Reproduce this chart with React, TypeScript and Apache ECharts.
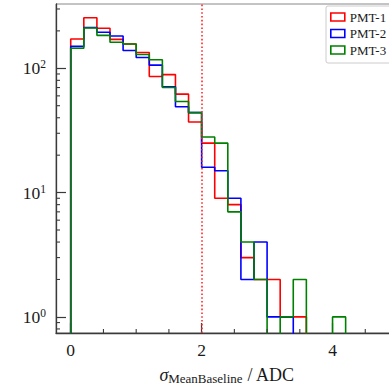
import React, { useEffect, useRef } from "react";
import * as echarts from "echarts";

// Bin edges (width 0.2 ADC)
const binEdges = [0, 0.2, 0.4, 0.6, 0.8, 1.0, 1.2, 1.4, 1.6, 1.8, 2.0, 2.2, 2.4, 2.6, 2.8, 3.0, 3.2, 3.4, 3.6, 3.8, 4.0, 4.2];

// Counts per bin
const pmt1 = [172, 255, 210, 171, 157, 134, 86, 89, 62, 37, 25, 9, 8, 3, 2, 2, 1, 1, 0, 0, 0];
const pmt2 = [150, 213, 195, 182, 139, 122, 106, 71, 49, 44, 16, 15, 9, 2, 4, 1, 1, 0, 0, 0, 0];
const pmt3 = [145, 211, 184, 162, 157, 129, 117, 70, 54, 44, 28, 25, 7, 4, 2, 0, 1, 2, 0, 0, 1];

const seriesNames = ["PMT-1", "PMT-2", "PMT-3"];
const seriesColors = ["rgb(255,0,0)", "rgb(0,0,255)", "rgb(0,128,0)"];

const xLabelValues = [0, 2, 4];
const xMinorTicks = [0.5, 1, 1.5, 2.5, 3, 3.5, 4.5];
const yLabelValues = [1, 10, 100];
const yMinorTicks = [0.8, 0.9, 2, 3, 4, 5, 6, 7, 8, 9, 20, 30, 40, 50, 60, 70, 80, 90, 200, 300];
const cutValue = 2;

const X_MIN = -0.225;
const X_MAX = 5.0;
const Y_MIN = 0.742;
const Y_MAX = 329;
const FLOOR = 0.05;

const FONT = "'Liberation Serif', 'DejaVu Serif', serif";
const AXIS_COLOR = "#3a3a3a";
const TEXT_COLOR = "#1a1a1a";

function stepPoints(counts: number[]): number[][] {
  const pts: number[][] = [[binEdges[0], FLOOR]];
  counts.forEach((c, i) => pts.push([binEdges[i], c > 0 ? c : FLOOR]));
  pts.push([binEdges[counts.length], FLOOR]);
  return pts;
}

export default function App() {
  const ref = useRef<HTMLDivElement>(null);
  useEffect(() => {
    if (!ref.current) return;
    const chart = echarts.init(ref.current, null, { renderer: "svg" });
    const data = [pmt1, pmt2, pmt3];
    const histSeries: any[] = data.map((counts, i) => ({
      name: seriesNames[i],
      type: "line",
      step: "end",
      data: stepPoints(counts),
      showSymbol: false,
      symbol: "none",
      clip: true,
      lineStyle: { color: seriesColors[i], width: 1.6 },
      itemStyle: { color: seriesColors[i] },
      z: 2 + i,
      markLine:
        i === 0
          ? {
              silent: true,
              symbol: ["none", "none"],
              label: { show: false },
              lineStyle: { color: "rgb(255,40,40)", type: [1.6, 2.2], width: 1.6 },
              data: [{ xAxis: cutValue }],
            }
          : undefined,
    }));

    const option: any = {
      animation: false,
      grid: {
        left: 56,
        right: 2,
        top: 4,
        bottom: 52,
        show: true,
        borderColor: "#888",
        borderWidth: 1,
        backgroundColor: "transparent",
        containLabel: false,
        outerBoundsMode: "none",
      },
      legend: {
        orient: "vertical",
        left: 326,
        top: 6,
        padding: [4, 6, 6, 4],
        itemWidth: 14,
        itemHeight: 8,
        itemGap: 2.5,
        icon: "rect",
        backgroundColor: "#fff",
        borderColor: "#ccc",
        borderWidth: 1,
        borderRadius: 2,
        textStyle: { fontFamily: FONT, fontSize: 13, color: TEXT_COLOR, lineHeight: 14 },
        data: seriesNames.map((n, i) => ({
          name: n,
          icon: "rect",
          itemStyle: { color: "#fff", borderColor: seriesColors[i], borderWidth: 1.6 },
        })),
      },
      xAxis: {
        type: "value",
        min: X_MIN,
        max: X_MAX,
        name: "{i|σ}{sub|MeanBaseline}{n| / ADC}",
        nameLocation: "middle",
        nameGap: 32,
        nameTextStyle: {
          rich: {
            i: { fontFamily: FONT, fontStyle: "italic", fontSize: 18, color: TEXT_COLOR, lineHeight: 20 },
            sub: { fontFamily: FONT, fontSize: 13, color: TEXT_COLOR, lineHeight: 12, verticalAlign: "bottom" },
            n: { fontFamily: FONT, fontSize: 18, color: TEXT_COLOR, lineHeight: 20 },
          },
        },
        axisLine: { show: true, onZero: false, lineStyle: { color: AXIS_COLOR, width: 1.3 } },
        axisTick: { show: true, inside: true, length: 10, customValues: xLabelValues, lineStyle: { color: AXIS_COLOR, width: 1.2 } },
        axisLabel: {
          customValues: xLabelValues,
          margin: 8,
          fontFamily: FONT,
          fontSize: 17.5,
          color: TEXT_COLOR,
        },
        splitLine: { show: false },
      },
      yAxis: {
        type: "log",
        logBase: 10,
        min: Y_MIN,
        max: Y_MAX,
        axisLine: { show: true, onZero: false, lineStyle: { color: AXIS_COLOR, width: 1.3 } },
        axisTick: { show: true, inside: true, length: 10, customValues: yLabelValues, lineStyle: { color: AXIS_COLOR, width: 1.2 } },
        axisLabel: {
          customValues: yLabelValues,
          margin: 10,
          formatter: (v: number) => `{b|10}{s|${Math.round(Math.log10(v))}}`,
          rich: {
            b: { fontFamily: FONT, fontSize: 17.5, color: TEXT_COLOR, lineHeight: 20 },
            s: { fontFamily: FONT, fontSize: 11.5, color: TEXT_COLOR, lineHeight: 12, verticalAlign: "top" },
          },
        },
        splitLine: { show: false },
        minorTick: { show: false },
      },
      series: [
        ...histSeries,
        {
          name: "yMinor",
          type: "custom",
          silent: true,
          z: 10,
          data: yMinorTicks.map((v) => [0, v]),
          encode: { x: 0, y: 1 },
          renderItem: (params: any, api: any) => {
            const p = api.coord([0, api.value(1)]);
            const left = params.coordSys.x;
            return {
              type: "line",
              shape: { x1: left, y1: p[1], x2: left + 4, y2: p[1] },
              style: { stroke: AXIS_COLOR, lineWidth: 1.1 },
            };
          },
        },
        {
          name: "xMinor",
          type: "custom",
          silent: true,
          z: 10,
          data: xMinorTicks.map((v) => [v, 1]),
          encode: { x: 0, y: 1 },
          renderItem: (params: any, api: any) => {
            const p = api.coord([api.value(0), 1]);
            const bottom = params.coordSys.y + params.coordSys.height;
            return {
              type: "line",
              shape: { x1: p[0], y1: bottom, x2: p[0], y2: bottom - 4 },
              style: { stroke: AXIS_COLOR, lineWidth: 1.1 },
            };
          },
        },
      ],
    };
    chart.setOption(option);
    return () => chart.dispose();
  }, []);

  return (
    <div
      style={{
        position: "fixed",
        left: 0,
        top: 0,
        width: 389,
        height: 385,
        overflow: "hidden",
        background: "#fff",
      }}
    >
      <div ref={ref} style={{ width: 400, height: 385 }} />
    </div>
  );
}
